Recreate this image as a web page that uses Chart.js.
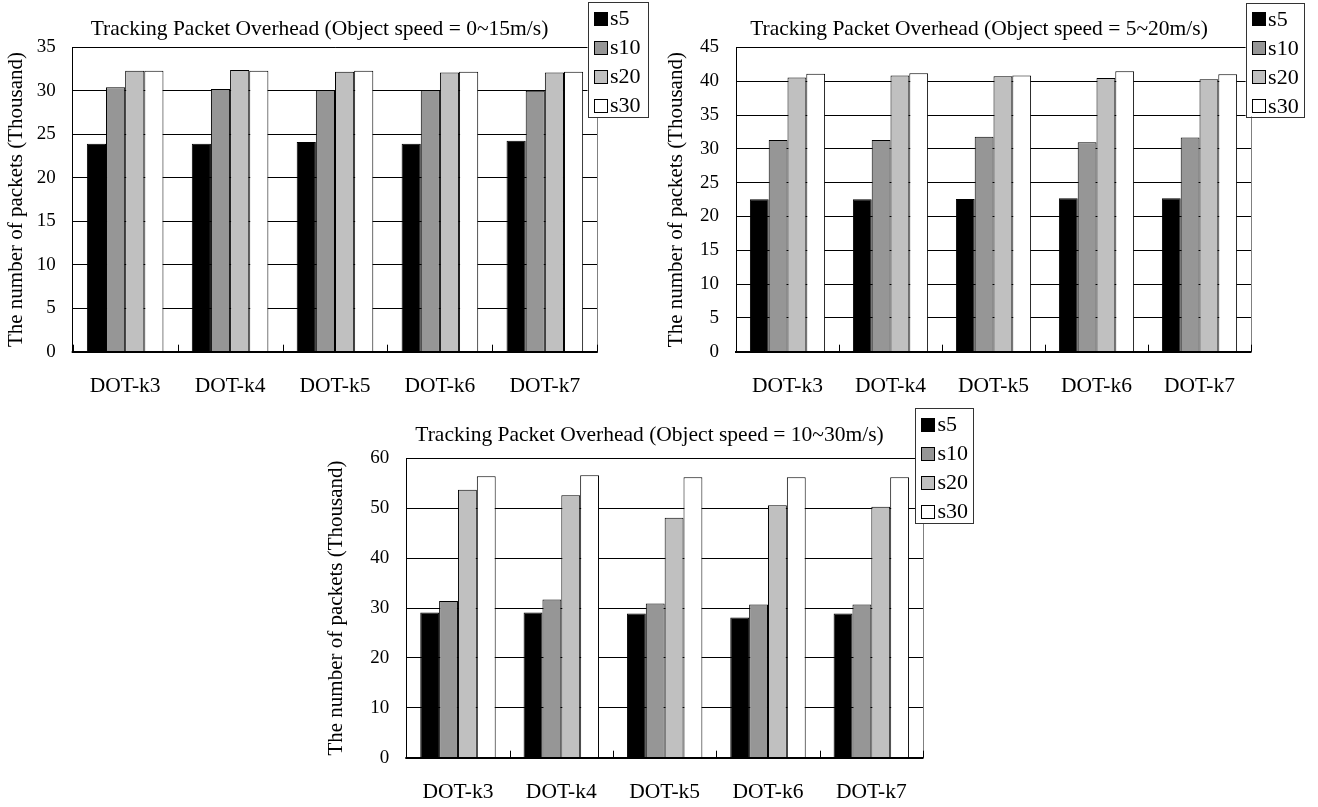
<!DOCTYPE html>
<html><head><meta charset="utf-8">
<script src="https://cdn.jsdelivr.net/npm/chart.js@4.4.1/dist/chart.umd.min.js"></script>
<style>
html,body{margin:0;padding:0;background:#fff;}
body{width:1318px;height:807px;position:relative;overflow:hidden;}
canvas{position:absolute;display:block;}
</style></head><body>
<canvas id="c1" width="660" height="400" style="left:0;top:0"></canvas>
<canvas id="c2" width="658" height="400" style="left:660px;top:0"></canvas>
<canvas id="c3" width="680" height="407" style="left:320px;top:400px"></canvas>
<script>
// ---- data ----
const categories = ['DOT-k3','DOT-k4','DOT-k5','DOT-k6','DOT-k7'];
const seriesNames = ['s5','s10','s20','s30'];
const titles = [
  'Tracking Packet Overhead (Object speed = 0~15m/s)',
  'Tracking Packet Overhead (Object speed = 5~20m/s)',
  'Tracking Packet Overhead (Object speed = 10~30m/s)'
];
const yAxisTitle = 'The number of packets (Thousand)';
const yMax = [35, 45, 60];
const yStep = [5, 5, 10];

const chart1_s5  = [23.9, 23.9, 24.1, 23.9, 24.25];
const chart1_s10 = [30.4, 30.2, 30.1, 30.1, 30.0];
const chart1_s20 = [32.3, 32.4, 32.2, 32.1, 32.1];
const chart1_s30 = [32.3, 32.3, 32.3, 32.2, 32.2];

const chart2_s5  = [22.55, 22.55, 22.6, 22.7, 22.7];
const chart2_s10 = [31.3, 31.3, 31.8, 31.0, 31.7];
const chart2_s20 = [40.55, 40.85, 40.75, 40.5, 40.3];
const chart2_s30 = [41.1, 41.2, 40.85, 41.5, 41.05];

const chart3_s5  = [29.1, 29.1, 28.9, 28.1, 28.9];
const chart3_s10 = [31.4, 31.7, 30.9, 30.7, 30.7];
const chart3_s20 = [53.7, 52.6, 48.1, 50.6, 50.3];
const chart3_s30 = [56.4, 56.6, 56.2, 56.2, 56.2];

const chartSeries = [
  [chart1_s5, chart1_s10, chart1_s20, chart1_s30],
  [chart2_s5, chart2_s10, chart2_s20, chart2_s30],
  [chart3_s5, chart3_s10, chart3_s20, chart3_s30]
];

// ---- styling / layout ----
const fills = ['#000000', '#969696', '#c0c0c0', '#ffffff'];
const FONT = "'Liberation Serif', 'Times New Roman', serif";
const layouts = [
  {id:'c1', W:660, H:400, L:72.7, R:597.3, T:47.3, B:351.7, tx:319.5, ty:29, legend:{x:587.5,y:2,w:60,h:115}},
  {id:'c2', W:658, H:400, L:76,   R:591,   T:47.5, B:351.7, tx:319,   ty:29, legend:{x:585.6,y:2.5,w:58,h:114}},
  {id:'c3', W:680, H:407, L:86.3, R:603,   T:58.3, B:357.7, tx:329.5, ty:35, legend:{x:595,y:8,w:58,h:115}}
];

const deco = {
  id: 'deco',
  afterDraw(chart, args, o) {
    const ctx = chart.ctx, a = chart.chartArea, x = chart.scales.x;
    ctx.save();
    // right border
    ctx.strokeStyle = '#808080'; ctx.lineWidth = 1;
    const rx = Math.round(a.right) + 0.5;
    ctx.beginPath(); ctx.moveTo(rx, a.top); ctx.lineTo(rx, a.bottom); ctx.stroke();
    // baseline
    ctx.strokeStyle = '#000'; ctx.lineWidth = 2;
    ctx.beginPath(); ctx.moveTo(a.left - 1, Math.round(a.bottom)); ctx.lineTo(a.right + 0.5, Math.round(a.bottom)); ctx.stroke();
    // inside ticks at category boundaries
    const n = x.ticks.length;
    const w = x.getPixelForTick(1) - x.getPixelForTick(0);
    ctx.lineWidth = 1;
    for (let i = 0; i <= n; i++) {
      const px = Math.round(x.getPixelForTick(0) - w / 2 + i * w) + 0.5;
      ctx.beginPath(); ctx.moveTo(px, a.bottom); ctx.lineTo(px, a.bottom - 7); ctx.stroke();
    }
    // title
    ctx.fillStyle = '#000';
    ctx.font = '21.5px ' + FONT;
    ctx.textAlign = 'center'; ctx.textBaseline = 'middle';
    ctx.fillText(o.title, o.tx, o.ty);
    // legend
    const L = o.legend;
    ctx.fillStyle = '#fff'; ctx.fillRect(L.x, L.y, L.w, L.h);
    ctx.strokeStyle = '#333'; ctx.lineWidth = 1;
    ctx.strokeRect(Math.round(L.x) + 0.5, Math.round(L.y) + 0.5, Math.round(L.w), Math.round(L.h));
    ctx.font = '22px ' + FONT; ctx.textAlign = 'left'; ctx.textBaseline = 'middle';
    chart.data.datasets.forEach((ds, i) => {
      const cy = L.y + 16.5 + 29 * i;
      const sx = Math.round(L.x + 6) + 0.5, sy = Math.round(cy - 7) + 0.5;
      ctx.fillStyle = ds.backgroundColor;
      ctx.fillRect(sx, sy, 13, 13);
      ctx.strokeStyle = '#000';
      ctx.strokeRect(sx, sy, 13, 13);
      ctx.fillStyle = '#000';
      ctx.fillText(ds.label, L.x + 22.5, cy + 1);
    });
    ctx.restore();
  }
};

layouts.forEach((lay, k) => {
  const datasets = seriesNames.map((name, i) => ({
    label: name,
    data: chartSeries[k][i],
    backgroundColor: fills[i],
    borderColor: '#000',
    borderWidth: 1,
    categoryPercentage: 0.73,
    barPercentage: 1.0
  }));
  new Chart(document.getElementById(lay.id), {
    type: 'bar',
    data: { labels: categories, datasets },
    plugins: [deco],
    options: {
      responsive: false,
      animation: false,
      devicePixelRatio: 1,
      layout: { padding: { left: 0, right: lay.W - lay.R, top: lay.T, bottom: 0 } },
      plugins: {
        legend: { display: false },
        title: { display: false },
        tooltip: { enabled: false },
        deco: { title: titles[k], tx: lay.tx, ty: lay.ty, legend: lay.legend }
      },
      scales: {
        x: {
          grid: { display: false },
          border: { display: false },
          ticks: { color: '#000', font: { family: FONT, size: 21.5 }, padding: 14, maxRotation: 0, autoSkip: false },
          afterFit(s) { s.height = lay.H - lay.B; }
        },
        y: {
          min: 0, max: yMax[k],
          grid: { color: '#000', lineWidth: 1, drawTicks: false },
          border: { color: '#000', width: 1 },
          ticks: { stepSize: yStep[k], color: '#000', font: { family: FONT, size: 19 }, padding: 17 },
          title: { display: true, text: yAxisTitle, color: '#000', font: { family: FONT, size: 21 }, padding: { top: 4, bottom: 0 } },
          afterFit(s) { s.width = lay.L; }
        }
      }
    }
  });
});
</script>
</body></html>
